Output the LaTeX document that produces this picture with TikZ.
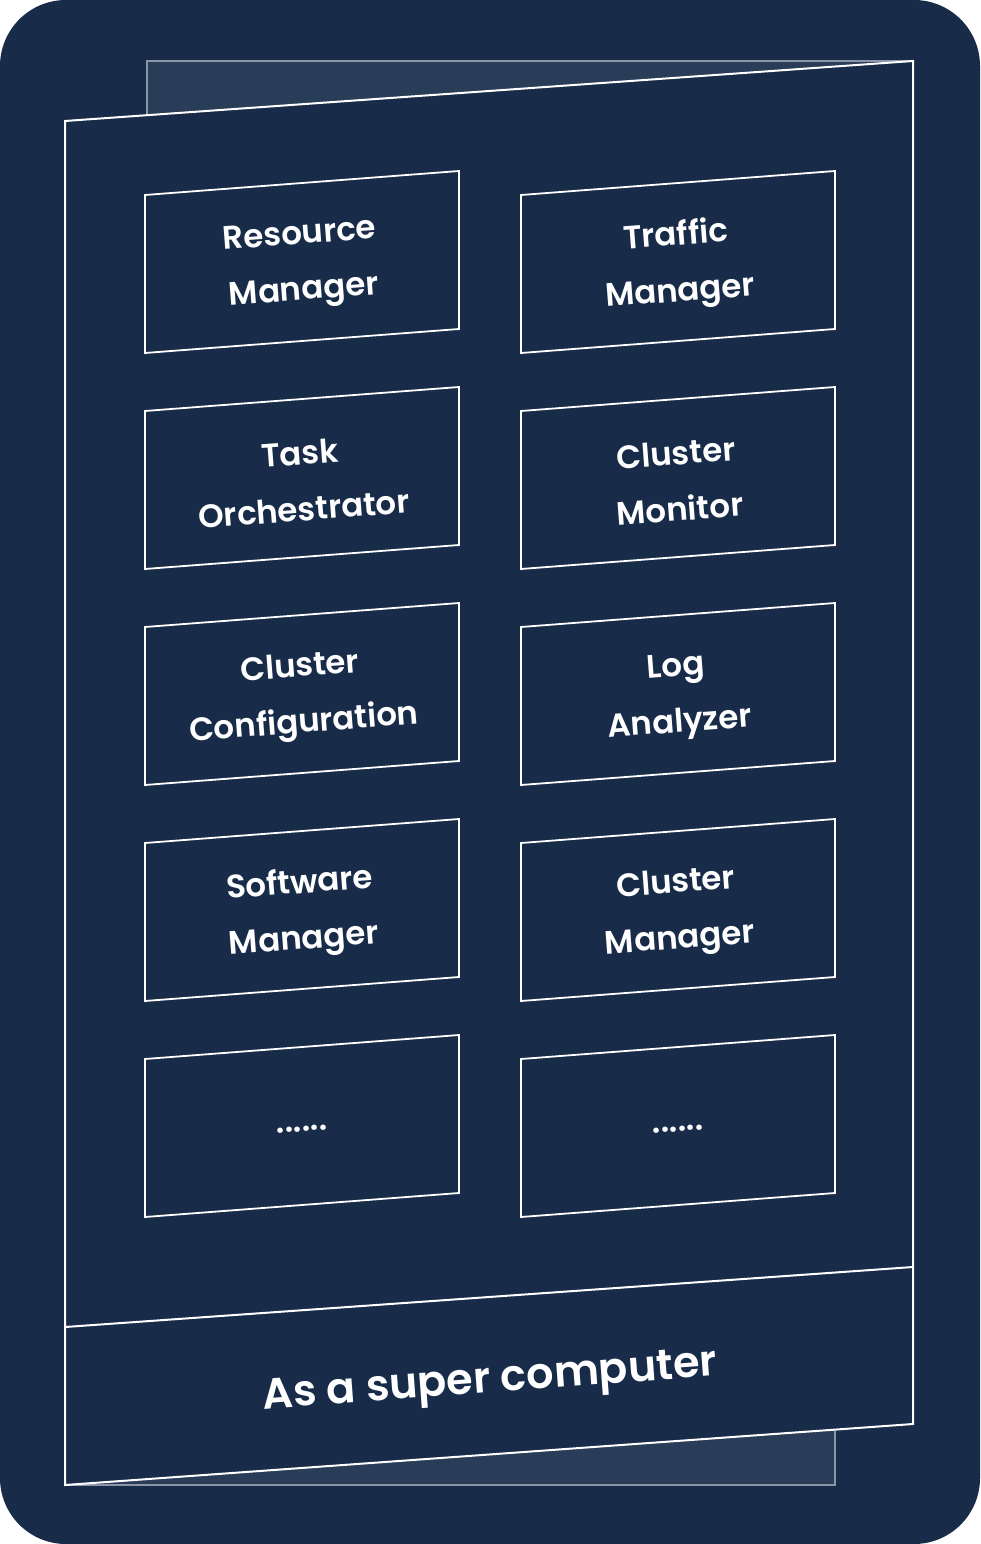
\documentclass[tikz,border=0pt]{standalone}
\usepackage{fontspec}
\setmainfont{Poppins}[BoldFont={Poppins SemiBold}]
\definecolor{navy}{HTML}{182C4A}
\definecolor{backfill}{HTML}{293D59}
\definecolor{backline}{HTML}{8A96A8}
\tikzset{
  frontline/.style={draw=white, line width=2pt},
  backedge/.style={draw=backline, line width=2pt},
  modline/.style={draw=white, line width=1.8pt},
  modlabel/.style={text=white, font=\bfseries\fontsize{32.5}{56}\selectfont, align=center, rotate=4.37, inner sep=0pt},
  titlelabel/.style={text=white, font=\bfseries\fontsize{43}{50}\selectfont, rotate=4.2, inner sep=0pt},
}
% one module: name, top-left x, top-left y, label
\newcommand\modbox[4]{%
  \draw[modline] (#2,#3) -- ++(314,-24) -- ++(0,158) -- ++(-314,24) -- cycle;
  \node[modlabel] (#1) at ({#2+157},{#3+70}) {#4};
}
\begin{document}
\begin{tikzpicture}[x=1pt,y=-1pt]
\useasboundingbox (0,0) rectangle (980,1544);
\fill[white] (0,0) rectangle (980,1544);
\fill[navy, rounded corners=66pt] (0,0) rectangle (980,1544);

% back sheet
\fill[backfill] (147,61) -- (913,61) -- (913,1424) -- (835,1430.5) -- (835,1485)
  -- (65,1485) -- (65,121) -- (147,115.2) -- cycle;
\draw[backedge] (147,115.2) -- (147,61) -- (913,61);
\draw[backedge] (65,1485) -- (835,1485) -- (835,1430.5);

% front sheet
\fill[navy] (65,121) -- (913,61) -- (913,1424) -- (65,1485) -- cycle;
\draw[frontline] (65,121) -- (913,61) -- (913,1424) -- (65,1485) -- cycle;
\coordinate (sepL) at (65,1327);
\coordinate (sepR) at (913,1267);
\draw[frontline] (sepL) -- (sepR);

% modules
\modbox{rm}{145}{195}{Resource\\Manager}
\modbox{tm}{521}{195}{Traffic\\Manager}
\modbox{to}{145}{411}{Task\\Orchestrator}
\modbox{cmon}{521}{411}{Cluster\\Monitor}
\modbox{cc}{145}{627}{Cluster\\Configuration}
\modbox{la}{521}{627}{Log\\Analyzer}
\modbox{sm}{145}{843}{Software\\Manager}
\modbox{cm}{521}{843}{Cluster\\Manager}
\modbox{more1}{145}{1059}{......}
\modbox{more2}{521}{1059}{......}

\node[titlelabel] (title) at (490,1383) {As a super computer};
\end{tikzpicture}
\end{document}
